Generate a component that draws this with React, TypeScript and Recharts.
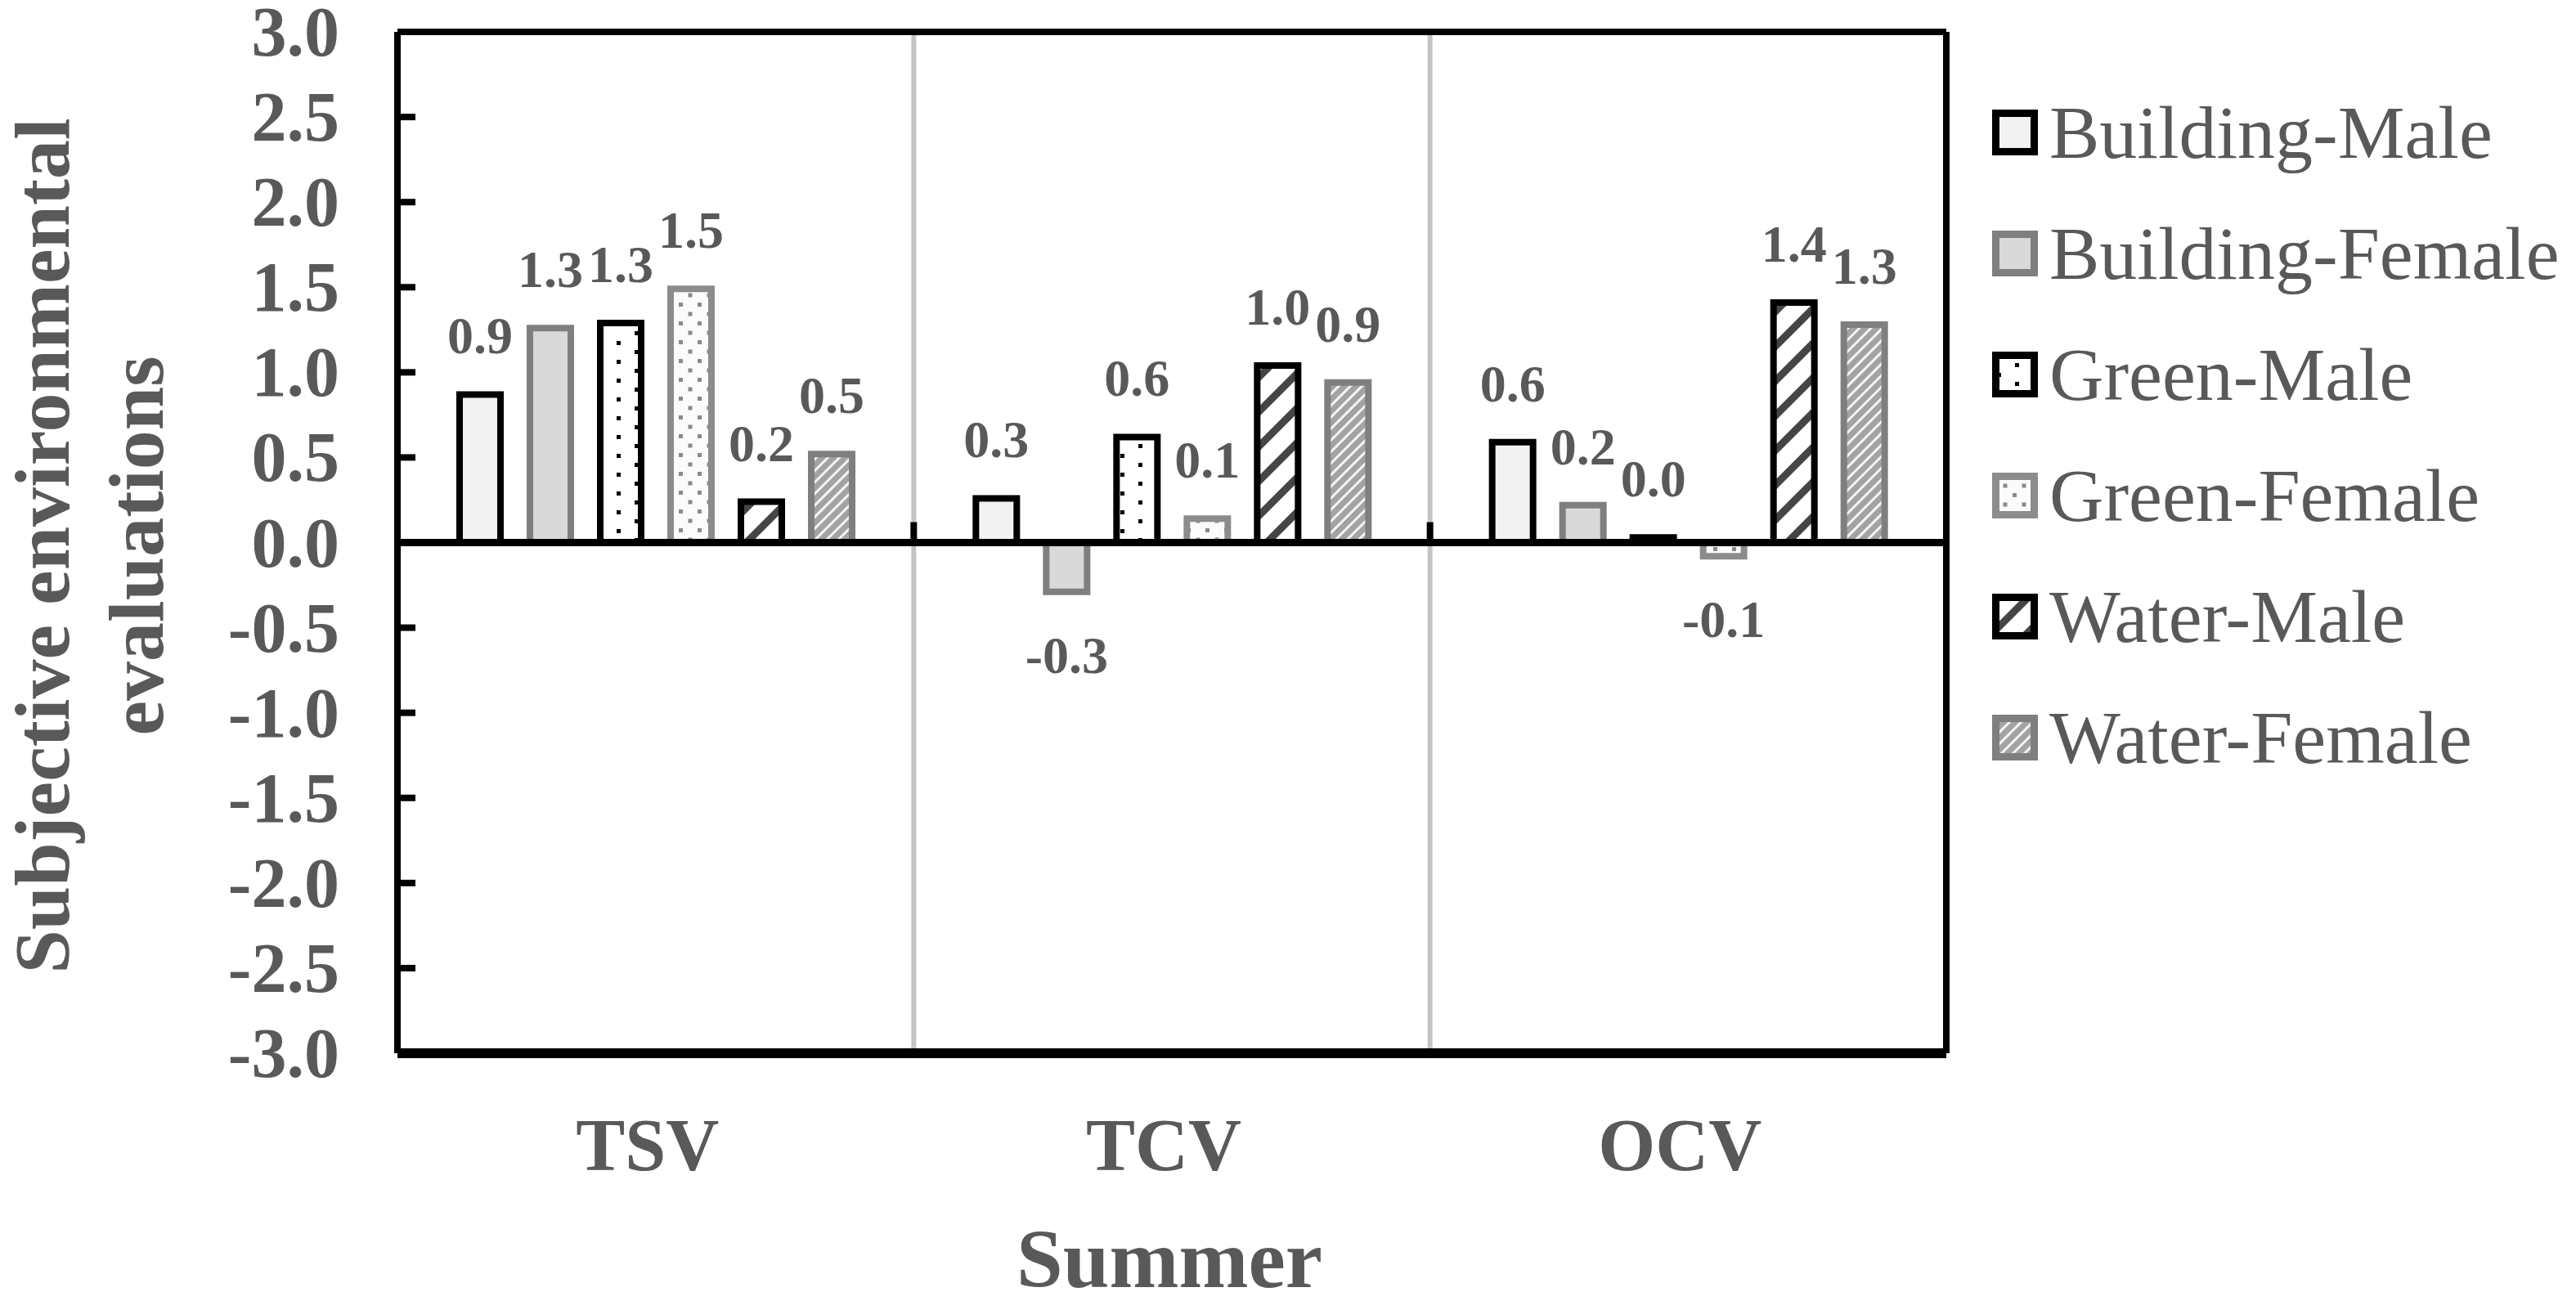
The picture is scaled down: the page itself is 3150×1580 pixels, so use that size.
import React from 'react';
import {
  BarChart,
  Bar,
  XAxis,
  YAxis,
  Legend,
  ReferenceLine,
  LabelList,
  Label,
} from 'recharts';

const CATEGORIES = ['TSV', 'TCV', 'OCV'];
const BUILDING_MALE = [0.87, 0.26, 0.59];
const BUILDING_FEMALE = [1.26, -0.29, 0.22];
const GREEN_MALE = [1.29, 0.62, 0.03];
const GREEN_FEMALE = [1.49, 0.14, -0.08];
const WATER_MALE = [0.24, 1.04, 1.41];
const WATER_FEMALE = [0.52, 0.94, 1.28];
const Y_TICKS = [-3, -2.5, -2, -1.5, -1, -0.5, 0, 0.5, 1, 1.5, 2, 2.5, 3];

const SERIES = [
  { key: 'bm', name: 'Building-Male', values: BUILDING_MALE, fill: '#f2f2f2', stroke: '#000000' },
  { key: 'bf', name: 'Building-Female', values: BUILDING_FEMALE, fill: '#d9d9d9', stroke: '#7f7f7f' },
  { key: 'gm', name: 'Green-Male', values: GREEN_MALE, fill: 'url(#dotsBlack)', stroke: '#000000' },
  { key: 'gf', name: 'Green-Female', values: GREEN_FEMALE, fill: 'url(#dotsGray)', stroke: '#8c8c8c' },
  { key: 'wm', name: 'Water-Male', values: WATER_MALE, fill: 'url(#hatchDark)', stroke: '#000000' },
  { key: 'wf', name: 'Water-Female', values: WATER_FEMALE, fill: 'url(#hatchGray)', stroke: '#7f7f7f' },
];

const data = CATEGORIES.map((cat, i) => {
  const row: Record<string, any> = { cat };
  SERIES.forEach((s) => {
    row[s.key] = s.values[i];
  });
  return row;
});

const FONT = '"Liberation Serif", "Times New Roman", serif';
const TEXT = '#595959';

function Patterns() {
  return (
    <svg width={0} height={0} style={{ position: 'absolute' }}>
      <defs>
        <pattern id="dotsBlack" patternUnits="userSpaceOnUse" width={44} height={23}>
          <rect width={44} height={23} fill="#ffffff" />
          <rect x={6} y={3} width={5} height={5} fill="#000000" />
          <rect x={28} y={14} width={5} height={5} fill="#000000" />
        </pattern>
        <pattern id="dotsGray" patternUnits="userSpaceOnUse" width={23} height={23}>
          <rect width={23} height={23} fill="#fbfbfb" />
          <rect x={2} y={2} width={5} height={5} fill="#8a8a8a" />
          <rect x={13.5} y={13.5} width={5} height={5} fill="#8a8a8a" />
        </pattern>
        <pattern id="hatchDark" patternUnits="userSpaceOnUse" width={30} height={30} patternTransform="rotate(45)">
          <rect width={30} height={30} fill="#ffffff" />
          <rect x={0} y={0} width={9} height={30} fill="#454545" />
        </pattern>
        <pattern id="hatchGray" patternUnits="userSpaceOnUse" width={10} height={10} patternTransform="rotate(45)">
          <rect width={10} height={10} fill="#a3a3a3" />
          <rect x={0} y={0} width={3} height={10} fill="#f4f4f4" />
        </pattern>
      </defs>
    </svg>
  );
}

const YTick = (props: any) => {
  const { x, y, payload } = props;
  return (
    <g>
      <line x1={x} y1={y} x2={x + 22} y2={y} stroke="#000" strokeWidth={8} />
      <text
        x={x - 71}
        y={y + 29}
        textAnchor="end"
        fontFamily={FONT}
        fontWeight="bold"
        fontSize={86}
        fill={TEXT}
      >
        {Number(payload.value).toFixed(1)}
      </text>
    </g>
  );
};

const XTick = (props: any) => {
  const { x, y, payload } = props;
  return (
    <text
      x={x - 10}
      y={y + 143}
      textAnchor="middle"
      fontFamily={FONT}
      fontWeight="bold"
      fontSize={90}
      fill={TEXT}
    >
      {payload.value}
    </text>
  );
};

const BarValue = (props: any) => {
  const { x, y, width, height, value } = props;
  const top = Math.min(y, y + height);
  const bottom = Math.max(y, y + height);
  const ty = value < 0 ? bottom + 99 : top - 50;
  return (
    <text
      x={x + width / 2}
      y={ty}
      textAnchor="middle"
      fontFamily={FONT}
      fontWeight="bold"
      fontSize={64}
      fill={TEXT}
    >
      {Number(value).toFixed(1)}
    </text>
  );
};

const renderLegend = (props: any) => {
  const payload = [...(props.payload || [])];
  const order = (e: any) => SERIES.findIndex((s) => s.key === e.dataKey);
  payload.sort((a: any, b: any) => order(a) - order(b));
  return (
    <div style={{ fontFamily: FONT }}>
      {payload.map((entry: any) => {
        const s = SERIES[order(entry)] || SERIES[0];
        return (
          <div
            key={s.key}
            style={{ display: 'flex', alignItems: 'center', height: 148 }}
          >
            <svg width={56} height={56} style={{ flex: 'none' }}>
              <rect
                x={4.5}
                y={4.5}
                width={47}
                height={47}
                fill={s.fill}
                stroke={s.stroke}
                strokeWidth={9}
              />
            </svg>
            <span
              style={{
                marginLeft: 14,
                fontSize: 92,
                color: TEXT,
                lineHeight: 1,
                whiteSpace: 'nowrap',
              }}
            >
              {entry.value}
            </span>
          </div>
        );
      })}
    </div>
  );
};

const YTitle = (props: any) => {
  const vb = props.viewBox || {};
  const cy = vb.y + vb.height / 2 + 4;
  return (
    <g fontFamily={FONT} fontWeight="bold" fontSize={96} fill={TEXT}>
      <text x={84} y={cy} textAnchor="middle" transform={`rotate(-90, 84, ${cy})`}>
        Subjective environmental
      </text>
      <text x={199} y={cy} textAnchor="middle" transform={`rotate(-90, 199, ${cy})`}>
        evaluations
      </text>
    </g>
  );
};

const XTitle = (props: any) => {
  const vb = props.viewBox || {};
  return (
    <text
      x={vb.x + vb.width / 2 - 3}
      y={vb.y + 286}
      textAnchor="middle"
      fontFamily={FONT}
      fontWeight="bold"
      fontSize={102}
      fill={TEXT}
    >
      Summer
    </text>
  );
};

export default function App() {
  return (
    <div
      style={{
        position: 'absolute',
        left: 0,
        top: 0,
        width: 3150,
        height: 1580,
        background: '#ffffff',
      }}
    >
      <Patterns />
      <BarChart
        width={3150}
        height={1580}
        data={data}
        margin={{ top: 39, right: 770, bottom: 0, left: 286 }}
        barSize={50}
        barGap={36}
      >
        <XAxis
          dataKey="cat"
          axisLine={false}
          tickLine={false}
          tickSize={0}
          tickMargin={0}
          height={292}
          interval={0}
          tick={XTick}
        >
          <Label content={XTitle} />
        </XAxis>
        <YAxis
          type="number"
          domain={[-3, 3]}
          ticks={Y_TICKS}
          interval={0}
          allowDataOverflow
          width={200}
          axisLine={{ stroke: '#000', strokeWidth: 8 }}
          tickLine={false}
          tickSize={0}
          tickMargin={0}
          tick={YTick}
        >
          <Label content={YTitle} />
        </YAxis>

        <ReferenceLine x="TCV" position="start" stroke="#c4c4c4" strokeWidth={6} />
        <ReferenceLine x="OCV" position="start" stroke="#c4c4c4" strokeWidth={6} />

        {SERIES.map((s) => (
          <Bar
            key={s.key}
            dataKey={s.key}
            name={s.name}
            fill={s.fill}
            stroke={s.stroke}
            strokeWidth={8}
            isAnimationActive={false}
          >
            <LabelList dataKey={s.key} content={BarValue} />
          </Bar>
        ))}

        <ReferenceLine y={0} stroke="#000" strokeWidth={9} />
        <ReferenceLine
          position="start"
          segment={[
            { x: 'TCV', y: 0 },
            { x: 'TCV', y: 0.12 },
          ]}
          stroke="#000"
          strokeWidth={8}
        />
        <ReferenceLine
          position="start"
          segment={[
            { x: 'OCV', y: 0 },
            { x: 'OCV', y: 0.12 },
          ]}
          stroke="#000"
          strokeWidth={8}
        />
        <ReferenceLine y={3} stroke="#000" strokeWidth={8} />
        <ReferenceLine y={-3} stroke="#000" strokeWidth={12} />
        <ReferenceLine x="OCV" position="end" stroke="#000" strokeWidth={8} />

        <Legend
          layout="horizontal"
          verticalAlign="middle"
          align="center"
          content={renderLegend}
          wrapperStyle={{ left: 2436, top: 88, width: 700, height: 'auto' }}
        />
      </BarChart>
    </div>
  );
}
